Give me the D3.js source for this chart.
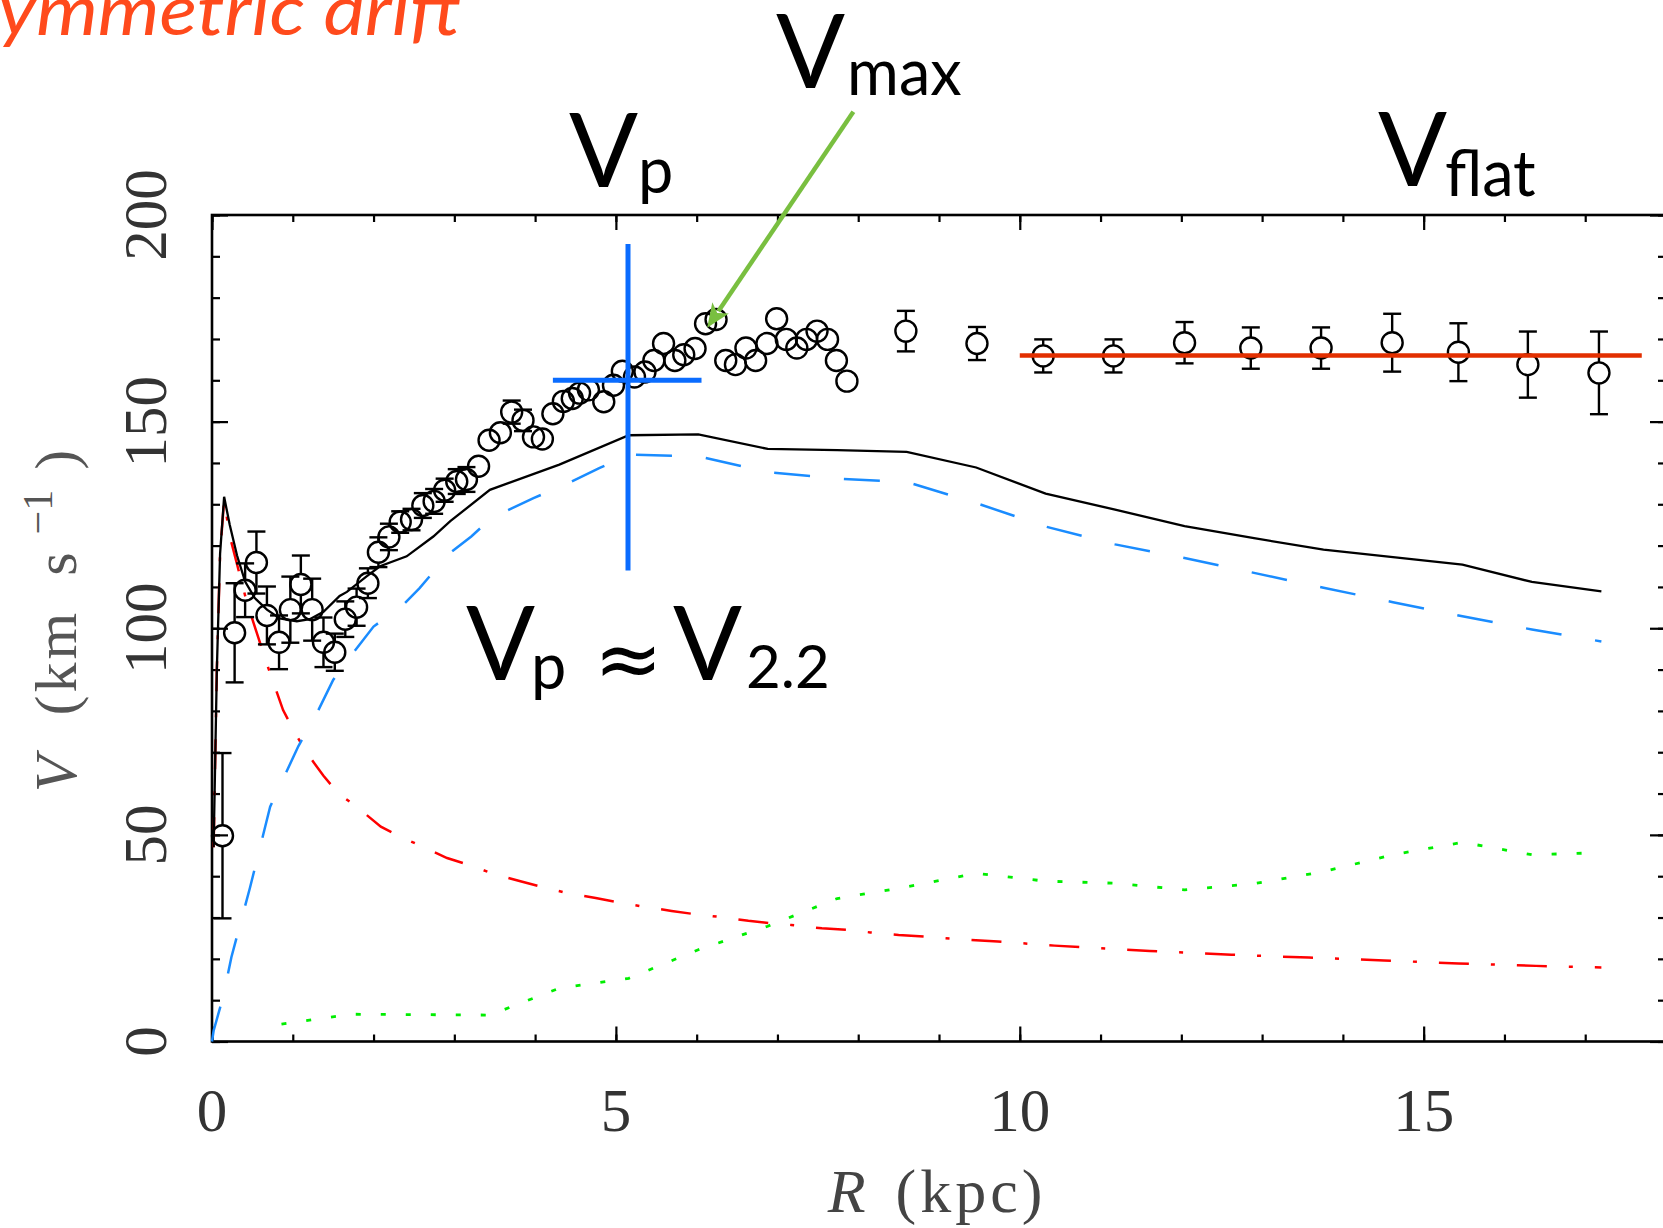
<!DOCTYPE html>
<html>
<head>
<meta charset="utf-8">
<script src="https://cdn.jsdelivr.net/npm/d3@7"></script>
<style>
  html, body { margin: 0; padding: 0; background: #fff; }
  svg { display: block; }
</style>
</head>
<body>
<svg id="chart" width="1663" height="1228"></svg>
<script>
// Observed rotation curve: radius (kpc), velocity (km/s), 1-sigma error (0 = no bar drawn)
const obsR = [0.13, 0.28, 0.41, 0.55, 0.68, 0.83, 0.97, 1.10, 1.24, 1.38, 1.52, 1.65, 1.79, 1.93,
  2.06, 2.19, 2.33, 2.47, 2.61, 2.75, 2.88, 3.03, 3.15, 3.30, 3.43, 3.57, 3.71, 3.85, 3.98, 4.09,
  4.22, 4.35, 4.46, 4.55, 4.66, 4.85, 4.97, 5.08, 5.23, 5.36, 5.47, 5.59, 5.73, 5.84, 5.98, 6.11,
  6.24, 6.36, 6.48, 6.61, 6.73, 6.87, 6.99, 7.11, 7.24, 7.36, 7.49, 7.62, 7.73, 7.86,
  8.59, 9.47, 10.29, 11.16, 12.04, 12.86, 13.73, 14.61, 15.43, 16.29, 17.17];
const obsV = [49.8, 98.9, 109.2, 115.9, 103.1, 96.6, 104.5, 110.6, 104.5, 96.6, 94.2, 102.2, 105.1, 110.9,
  118.4, 122.1, 125.7, 126.3, 129.7, 130.7, 133.4, 135.5, 136.0, 139.2, 145.5, 147.3, 152.3, 150.3, 146.3, 145.8,
  151.9, 154.9, 155.6, 156.9, 157.7, 154.8, 158.8, 162.2, 160.8, 162.0, 164.8, 168.9, 164.8, 166.2, 167.7, 173.7,
  174.7, 164.8, 163.8, 167.8, 164.8, 168.9, 174.9, 169.9, 167.8, 169.9, 171.9, 169.9, 164.8, 159.8,
  171.9, 168.9, 165.9, 165.9, 169.1, 167.8, 167.8, 169.1, 166.8, 163.8, 161.8];
const obsErr = [20, 12, 6.5, 7.5, 7, 6.5, 8, 7, 7.5, 6, 4.5, 4.3, 4.5, 3.6,
  3.6, 3.2, 2.6, 2.6, 3, 3, 2.8, 3, 3, 2.4, 0, 0, 2.8, 2.6, 0, 0,
  0, 0, 0, 0, 0, 0, 0, 0, 0, 0, 0, 0, 0, 0, 0, 0,
  0, 0, 0, 0, 0, 0, 0, 0, 0, 0, 0, 0, 0, 0,
  4.9, 4, 4, 4, 5, 5, 5, 7, 7, 8, 10];

// Mass model: total
const totalR = [0.02, 0.06, 0.10, 0.15, 0.22, 0.31, 0.41, 0.53, 0.68, 0.84, 1.05, 1.21, 1.38, 1.58, 1.67,
  1.91, 2.08, 2.41, 2.74, 2.95, 3.44, 4.30, 5.16, 6.02, 6.88, 7.74, 8.60, 9.46, 10.32, 11.18, 12.04,
  12.90, 13.76, 14.62, 15.48, 16.34, 17.20];
const totalV = [47, 90, 118, 131.8, 125, 117.6, 111.3, 107.3, 104.5, 102.4, 101.7, 102.2, 104, 107.8, 108.8,
  112.5, 115, 117.4, 122.2, 125.9, 133.5, 139.6, 146.7, 146.9, 143.4, 143.1, 142.7, 138.9, 132.6, 128.7, 124.7,
  121.8, 119.0, 117.2, 115.4, 111.2, 108.9];

// Mass model: stellar disk
const diskR = [0.0, 0.02, 0.14, 0.24, 0.47, 0.72, 1.07, 1.30, 1.50, 1.73, 2.0, 2.37, 2.57, 2.92, 3.21, 3.46,
  3.98, 4.39, 4.80, 5.16, 6.02, 6.88, 7.74, 8.60, 9.46, 10.32, 11.18, 12.04, 12.90, 13.76, 14.62, 15.48,
  16.34, 17.20];
const diskV = [0, 2.6, 11, 20.4, 37.2, 56.8, 71.5, 79.5, 87.5, 93.6, 100.4, 105.7, 109.7, 117.8, 122.2, 126.7,
  131.5, 134.9, 138.8, 142, 141.6, 137.8, 136.2, 135.4, 130.3, 124.6, 120.3, 117, 113.4, 109.8, 106.3, 102.9,
  99.7, 96.8];

// Mass model: bulge
const bulgeR = [0.02, 0.06, 0.10, 0.15, 0.22, 0.43, 0.67, 0.88, 1.03, 1.17, 1.38, 1.56, 1.81, 2.09, 2.35,
  2.60, 2.91, 3.20, 3.48, 3.83, 4.11, 4.40, 4.75, 5.03, 5.35, 5.69, 5.98, 6.26, 6.64, 6.92, 7.17, 7.55,
  7.87, 8.15, 8.50, 8.82, 9.13, 9.73, 10.43, 11.61, 12.62, 13.58, 14.51, 15.43, 16.39, 17.20];
const bulgeV = [47, 90, 118, 131, 122.3, 106.4, 91.9, 80.2, 74.6, 69.9, 64.3, 60.1, 56.5, 52, 49.4,
  47.2, 44.4, 42.6, 40.6, 38.7, 37.3, 35.9, 34.7, 33.7, 32.6, 31.6, 30.8, 30.2, 29.2, 28.6, 28.2, 27.4,
  27, 26.4, 25.8, 25.4, 24.9, 24.2, 23.2, 21.9, 21.0, 20.3, 19.6, 18.9, 18.3, 17.9];

// Mass model: gas
const gasR = [0.86, 1.72, 2.58, 3.44, 4.30, 5.16, 6.02, 6.88, 7.74, 8.60, 9.46, 10.32, 11.18, 12.04,
  12.90, 13.76, 14.62, 15.48, 16.34, 17.20];
const gasV = [4.2, 6.6, 6.5, 6.4, 12.9, 15.3, 22.2, 27.9, 34.6, 37.4, 40.7, 38.8, 38.3, 36.7,
  38.2, 41.1, 45.2, 48.2, 45.2, 45.7];

// Axis ticks and labels
const xMajor = [0, 5, 10, 15];
const xMinor = d3.range(0, 19, 1);
const yMajor = [0, 50, 100, 150, 200];
const yMinor = d3.range(0, 201, 10);

// Characteristic velocities
const flatR = [10.0, 17.7];
const flatV = 166;
const peakR = 5.15, peakV = 160;
const peakSpanR = [4.22, 6.06];
const peakSpanV = [114, 193];
const arrowFrom = [7.94, 225];
const arrowTo = [6.13, 172.7];

const svg = d3.select("#chart");
const x = d3.scaleLinear().domain([0, 18]).range([212, 1666]);
const y = d3.scaleLinear().domain([0, 200]).range([1041.5, 215]);

svg.append("rect").attr("width", 1663).attr("height", 1228).attr("fill", "#fff");

// Title (runs off the left edge)
svg.append("text")
  .attr("transform", "translate(461,35) scale(1.12,1)")
  .attr("text-anchor", "end")
  .attr("font-family", "Lato, 'Open Sans', sans-serif")
  .attr("font-style", "italic")
  .attr("font-size", 70)
  .attr("fill", "#ff4a1c")
  .text("Asymmetric drift");

// Frame
svg.append("rect")
  .attr("x", x(0)).attr("y", y(200))
  .attr("width", x(18) - x(0)).attr("height", y(0) - y(200))
  .attr("fill", "none").attr("stroke", "#000").attr("stroke-width", 2.6);

function tickAxis(axisFn, scale, values, size, transform) {
  const g = svg.append("g").attr("transform", transform)
    .call(axisFn(scale).tickValues(values).tickSizeInner(-size).tickSizeOuter(0).tickFormat(""));
  g.select(".domain").remove();
  g.selectAll(".tick line").attr("stroke", "#000").attr("stroke-width", 2.2);
}
tickAxis(d3.axisBottom, x, xMinor, 7, `translate(0,${y(0)})`);
tickAxis(d3.axisBottom, x, xMajor, 15, `translate(0,${y(0)})`);
tickAxis(d3.axisTop, x, xMinor, 7, `translate(0,${y(200)})`);
tickAxis(d3.axisTop, x, xMajor, 15, `translate(0,${y(200)})`);
tickAxis(d3.axisLeft, y, yMinor, 8, `translate(${x(0)},0)`);
tickAxis(d3.axisLeft, y, yMajor, 16, `translate(${x(0)},0)`);
tickAxis(d3.axisRight, y, yMinor, 8, `translate(${x(18)},0)`);
tickAxis(d3.axisRight, y, yMajor, 16, `translate(${x(18)},0)`);

const serif = "'Liberation Serif', 'DejaVu Serif', serif";

// Tick labels
svg.append("g").selectAll("text").data(xMajor).join("text")
  .attr("x", d => x(d)).attr("y", 1131)
  .attr("text-anchor", "middle")
  .attr("font-family", serif).attr("font-size", 61).attr("fill", "#333")
  .text(d => d);

svg.append("g").selectAll("text").data(yMajor).join("text")
  .attr("transform", d => `translate(166,${y(d)}) rotate(-90)`)
  .attr("text-anchor", "middle")
  .attr("font-family", serif).attr("font-size", 61).attr("fill", "#333")
  .text(d => d);

// Axis titles
const xt = svg.append("text")
  .attr("x", 937).attr("y", 1212).attr("text-anchor", "middle")
  .attr("font-family", serif).attr("font-size", 62).attr("fill", "#444");
xt.append("tspan").attr("font-style", "italic").text("R");
xt.append("tspan").attr("dx", 30).attr("letter-spacing", 4).text("(kpc)");

const yt = svg.append("text")
  .attr("transform", "translate(76,621) rotate(-90)")
  .attr("text-anchor", "middle")
  .attr("font-family", serif).attr("font-size", 60).attr("fill", "#555");
yt.append("tspan").attr("font-style", "italic").text("V");
yt.append("tspan").attr("dx", 40).attr("letter-spacing", 3).text("(km");
yt.append("tspan").attr("dx", 34).text("s");
yt.append("tspan").attr("dx", 18).attr("dy", -24).attr("font-size", 42).text("\u22121");
yt.append("tspan").attr("dx", 20).attr("dy", 24).text(")");

// Model curves
const line = d3.line().x(d => x(d[0])).y(d => y(d[1]));
svg.append("path").datum(d3.zip(gasR, gasV)).attr("d", line)
  .attr("fill", "none").attr("stroke", "#00ee00").attr("stroke-width", 2.8)
  .attr("stroke-dasharray", "5,20");
svg.append("path").datum(d3.zip(bulgeR, bulgeV)).attr("d", line)
  .attr("fill", "none").attr("stroke", "#ff0000").attr("stroke-width", 2.5)
  .attr("stroke-dasharray", "30,22,4,22");
svg.append("path").datum(d3.zip(diskR, diskV)).attr("d", line)
  .attr("fill", "none").attr("stroke", "#1a8cff").attr("stroke-width", 2.5)
  .attr("stroke-dasharray", "36,34");
svg.append("path").datum(d3.zip(totalR, totalV)).attr("d", line)
  .attr("fill", "none").attr("stroke", "#000").attr("stroke-width", 2.3);

// Observed points with error bars
const r = 10.5;
const obs = obsR.map((d, i) => ({ R: d, V: obsV[i], e: obsErr[i] }));
const pts = svg.append("g").attr("stroke", "#000").attr("stroke-width", 2.4).attr("fill", "none");
obs.filter(d => d.e > 0 && (y(d.V) - y(d.V + d.e)) > r).forEach(d => {
  const cx = x(d.R), cy = y(d.V), top = y(d.V + d.e), bot = y(d.V - d.e);
  pts.append("line").attr("x1", cx).attr("x2", cx).attr("y1", top).attr("y2", cy - r);
  pts.append("line").attr("x1", cx).attr("x2", cx).attr("y1", cy + r).attr("y2", bot);
  pts.append("line").attr("x1", cx - 9).attr("x2", cx + 9).attr("y1", top).attr("y2", top);
  pts.append("line").attr("x1", cx - 9).attr("x2", cx + 9).attr("y1", bot).attr("y2", bot);
});
pts.selectAll("circle").data(obs).join("circle")
  .attr("cx", d => x(d.R)).attr("cy", d => y(d.V)).attr("r", r);

// Flat part of the curve
svg.append("line")
  .attr("x1", x(flatR[0])).attr("x2", x(flatR[1]))
  .attr("y1", y(flatV)).attr("y2", y(flatV))
  .attr("stroke", "#e22f00").attr("stroke-width", 4.5);

// Peak marker
svg.append("line")
  .attr("x1", x(peakR)).attr("x2", x(peakR))
  .attr("y1", y(peakSpanV[1])).attr("y2", y(peakSpanV[0]))
  .attr("stroke", "#0a6cff").attr("stroke-width", 5);
svg.append("line")
  .attr("x1", x(peakSpanR[0])).attr("x2", x(peakSpanR[1]))
  .attr("y1", y(peakV)).attr("y2", y(peakV))
  .attr("stroke", "#0a6cff").attr("stroke-width", 5);

// Arrow to the maximum
{
  const x0 = x(arrowFrom[0]), y0 = y(arrowFrom[1]);
  const x1 = x(arrowTo[0]), y1 = y(arrowTo[1]);
  const len = Math.hypot(x1 - x0, y1 - y0);
  const ux = (x1 - x0) / len, uy = (y1 - y0) / len;
  const hl = 24, hw = 10;
  const bx = x1 - ux * hl, by = y1 - uy * hl;
  svg.append("line").attr("x1", x0).attr("y1", y0).attr("x2", bx + ux * 4).attr("y2", by + uy * 4)
    .attr("stroke", "#79bf40").attr("stroke-width", 4.5);
  svg.append("path")
    .attr("d", `M${x1},${y1} L${bx - uy * hw},${by + ux * hw} L${bx + ux * 6},${by + uy * 6} L${bx + uy * hw},${by - ux * hw} Z`)
    .attr("fill", "#79bf40");
}

// Annotations
const sans = "Lato, 'Open Sans', sans-serif";
function vLabel(xp, yp, sub, dy, dx) {
  const t = svg.append("text").attr("x", xp).attr("y", yp)
    .attr("font-family", sans).attr("font-size", 102).attr("fill", "#000");
  t.append("tspan").text("V");
  t.append("tspan").attr("font-size", 63).attr("dy", dy).attr("dx", dx).text(sub);
}
vLabel(776, 88, "max", 7, 2);
vLabel(569, 187, "p", 6, 0);
vLabel(1378, 186, "flat", 10, -2);
vLabel(466, 680, "p", 9, -4);
svg.append("text").attr("x", 594).attr("y", 687)
  .attr("font-family", "'DejaVu Sans', sans-serif").attr("font-size", 82).attr("fill", "#000").text("\u2248");
const v22 = svg.append("text").attr("x", 673).attr("y", 680)
  .attr("font-family", sans).attr("font-size", 102).attr("fill", "#000");
v22.append("tspan").text("V");
v22.append("tspan").attr("font-size", 60).attr("dy", 8).attr("dx", 4).text("2.2");
</script>
</body>
</html>
